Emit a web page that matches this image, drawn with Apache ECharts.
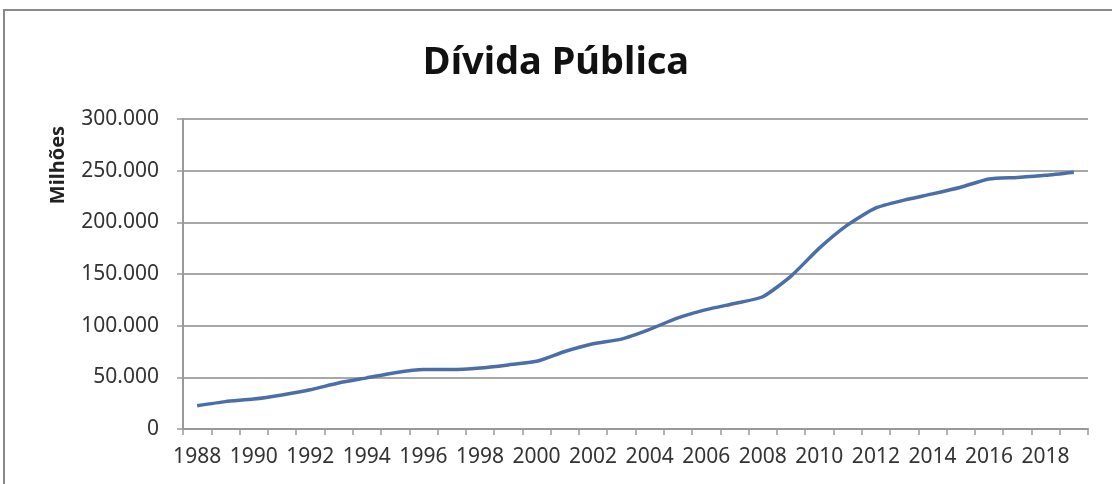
<!DOCTYPE html>
<html>
<head>
<meta charset="utf-8">
<script src="https://cdn.jsdelivr.net/npm/echarts@6/dist/echarts.min.js"></script>
<style>
html,body{margin:0;padding:0;background:#fff;}
#chart{width:1112px;height:484px;}
</style>
</head>
<body>
<div id="chart"></div>
<script>
const years = ["1988","1989","1990","1991","1992","1993","1994","1995","1996","1997","1998","1999","2000","2001","2002","2003","2004","2005","2006","2007","2008","2009","2010","2011","2012","2013","2014","2015","2016","2017","2018","2019"];
const debt = [22500,26500,29000,33000,38000,44500,49500,54500,57500,57500,59000,62000,65500,75000,82500,87000,96500,107500,115500,121500,128000,148000,175000,197500,214000,221500,227500,234000,242000,243500,245500,248500];
const chartTitle = "Dívida Pública";
const yName = "Milhões";

function fmt(v){return String(v).replace(/\B(?=(\d{3})+(?!\d))/g,'.');}

const chart = echarts.init(document.getElementById('chart'));
chart.setOption({
  animation:false,
  backgroundColor:'#ffffff',
  title:{text:chartTitle,left:'center',top:39,textStyle:{fontFamily:'Noto Sans',fontWeight:'bold',fontSize:38,color:'#111'}},
  grid:{left:183,right:24,top:119,bottom:55},
  graphic:[
    {type:'rect',shape:{x:4,y:10,width:1200,height:600},style:{fill:'none',stroke:'#8a8a8a',lineWidth:2},silent:true},
    {type:'text',x:58,y:165,rotation:Math.PI/2,style:{text:yName,fontFamily:'Noto Sans',fontWeight:'bold',fontSize:20,fill:'#222',textAlign:'center',textVerticalAlign:'middle'}}
  ],
  xAxis:{type:'category',data:years,boundaryGap:true,
    axisLine:{lineStyle:{color:'#999',width:2}},
    axisTick:{show:true,alignWithLabel:false,interval:0,length:6,lineStyle:{color:'#999',width:1.5}},
    axisLabel:{interval:1,fontFamily:'Noto Sans',fontSize:21,color:'#333',margin:18}},
  yAxis:{type:'value',min:0,max:300000,interval:50000,
    axisLine:{show:true,lineStyle:{color:'#999',width:2}},
    axisTick:{show:true,length:6,lineStyle:{color:'#999',width:1.5}},
    splitLine:{lineStyle:{color:'#a8a8a8',width:2}},
    axisLabel:{formatter:fmt,fontFamily:'Noto Sans',fontSize:21,color:'#333',margin:24}},
  series:[{type:'line',data:debt,symbol:'none',smooth:0.2,lineStyle:{color:'#4a6ea8',width:3.5}}]
});
</script>
</body>
</html>
